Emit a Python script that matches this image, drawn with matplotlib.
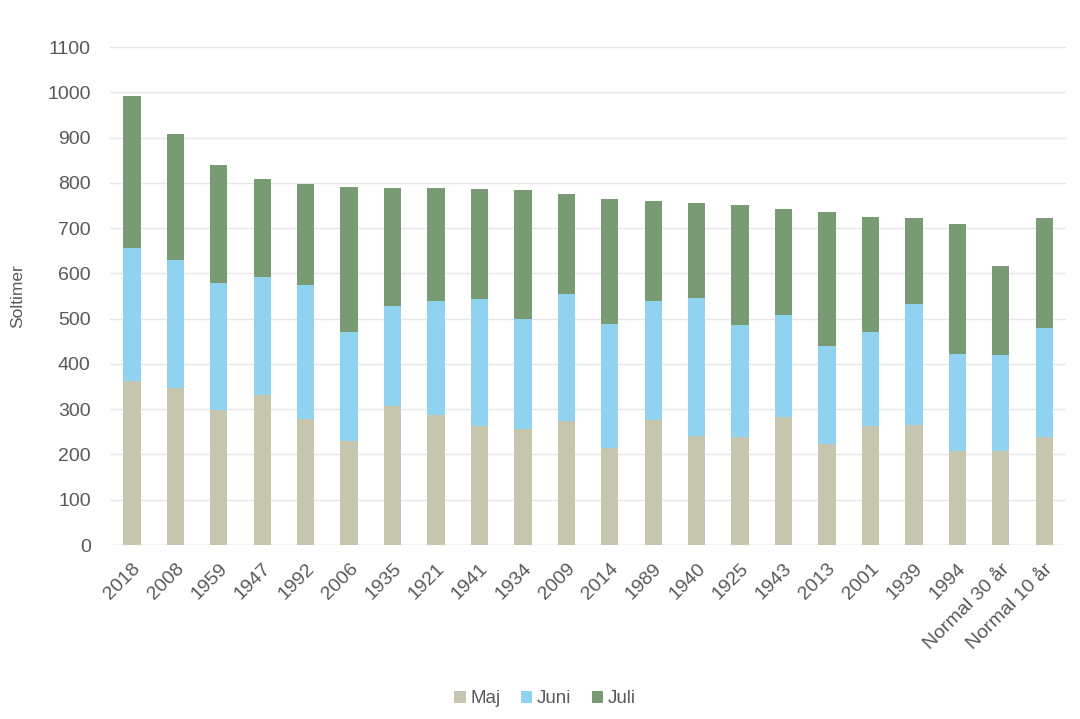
import matplotlib
matplotlib.use("Agg")
import matplotlib.pyplot as plt
import numpy as np

categories = ["2018", "2008", "1959", "1947", "1992", "2006", "1935", "1921", "1941", "1934",
              "2009", "2014", "1989", "1940", "1925", "1943", "2013", "2001", "1939", "1994",
              "Normal 30 år", "Normal 10 år"]
maj = [362, 347, 298, 331, 278, 230, 307, 287, 263, 256, 274, 214, 276, 241, 238, 283, 223, 263, 265, 207, 207, 238]
juni_cum = [656, 629, 578, 592, 574, 470, 528, 539, 543, 499, 554, 488, 539, 545, 486, 508, 439, 470, 532, 422, 419, 479]
total = [991, 907, 839, 808, 797, 790, 788, 788, 786, 784, 775, 764, 759, 755, 751, 742, 735, 724, 722, 709, 616, 722]

juni = [j - m for j, m in zip(juni_cum, maj)]
juli = [t - j for t, j in zip(total, juni_cum)]

plt.rcParams['font.family'] = ['Liberation Sans', 'DejaVu Sans']
fig = plt.figure(figsize=(10.8, 7.19), dpi=100)
ax = fig.add_axes([0.102, 0.242, 0.885, 0.6926])

x = np.arange(len(categories))
w = 0.4
c_maj = "#c6c6ae"
c_juni = "#8fd3f0"
c_juli = "#789b74"
ax.bar(x, maj, w, color=c_maj, label="Maj", zorder=3)
ax.bar(x, juni, w, bottom=maj, color=c_juni, label="Juni", zorder=3)
ax.bar(x, juli, w, bottom=juni_cum, color=c_juli, label="Juli", zorder=3)

ax.set_xlim(-0.5, len(categories) - 0.5)
ax.set_ylim(0, 1100)
ax.set_yticks(range(0, 1101, 100))
ax.yaxis.grid(True, color="#e6e6e6", linewidth=1, zorder=0)
for s in ax.spines.values():
    s.set_visible(False)
ax.axhline(0, color="#d9d9d9", linewidth=1, zorder=2)
ax.tick_params(axis='both', length=0, labelsize=14, labelcolor="#595959")
ax.tick_params(axis='y', pad=14)
ax.tick_params(axis='x', pad=11)
ax.set_xticks(x)
ax.set_xticklabels(categories, rotation=45, ha='right', rotation_mode='anchor')
ax.set_ylabel("Soltimer", fontsize=12.5, color="#595959", labelpad=16)

ax.legend(loc='upper center', bbox_to_anchor=(0.455, -0.258), ncol=3, frameon=False,
          fontsize=13.5, labelcolor="#595959", handlelength=0.6, handleheight=0.6,
          handletextpad=0.25, columnspacing=1.1)

fig.savefig("out.png", dpi=100)
